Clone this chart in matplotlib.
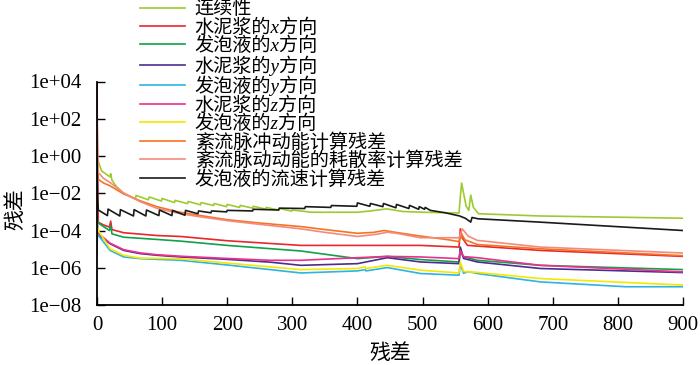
import numpy as np
import matplotlib
matplotlib.use("Agg")
import matplotlib.pyplot as plt

plt.rcParams['font.family'] = ['Liberation Serif', 'Noto Sans CJK SC', 'DejaVu Sans']
plt.rcParams['axes.unicode_minus'] = True

# ---------------- data (log10 of residual) ----------------
labels = ['连续性', '水泥浆的x方向', '发泡液的x方向', '水泥浆的y方向', '发泡液的y方向',
          '水泥浆的z方向', '发泡液的z方向', '紊流脉冲动能计算残差', '紊流脉动动能的耗散率计算残差',
          '发泡液的流速计算残差']

cont_it = [0, 1, 7, 15, 20, 21, 23, 30, 40, 50, 59, 60, 79, 80, 99, 100, 119, 120, 139, 140,
           159, 160, 179, 180, 199, 200, 219, 220, 239, 240, 259, 260, 279, 280, 299, 300,
           330, 360, 400, 420, 445, 470, 500, 556, 558, 560, 563, 567, 571, 574, 578, 586, 680, 900]
cont_log = [-0.3, -0.2, -0.8, -1.0, -1.12, -0.95, -1.3, -1.65, -1.97, -2.15, -2.3, -2.12, -2.35, -2.2,
            -2.42, -2.28, -2.5, -2.38, -2.56, -2.44, -2.62, -2.5, -2.66, -2.55, -2.72, -2.6, -2.76,
            -2.65, -2.8, -2.7, -2.85, -2.76, -2.9, -2.82, -2.96, -2.9, -3.02, -3.02, -3.02, -2.95,
            -2.84, -2.98, -3.02, -3.06, -2.2, -1.45, -2.0, -2.7, -2.92, -2.1, -2.75, -3.1, -3.22, -3.34]

red_it = [0, 1, 2, 10, 19, 21, 23, 41, 92, 128, 200, 313, 400, 497, 556, 558, 561, 569, 681, 900]
red_log = [3.9, -1.2, -3.56, -3.7, -3.82, -3.5, -3.95, -4.12, -4.27, -4.32, -4.55, -4.8, -4.8, -4.8,
           -4.89, -3.91, -4.4, -4.8, -5.07, -5.39]

dgreen_it = [0, 2, 19, 21, 23, 41, 92, 128, 200, 313, 400, 446, 497, 556, 558, 562, 584, 681, 900]
dgreen_log = [-3.29, -3.6, -4.0, -3.75, -4.18, -4.36, -4.48, -4.57, -4.8, -5.1, -5.51, -5.39, -5.56,
              -5.69, -4.98, -5.4, -5.6, -5.87, -6.1]

purple_it = [0, 2, 20, 41, 66, 92, 128, 200, 266, 313, 400, 446, 497, 556, 558, 563, 584, 681, 900]
purple_log = [-3.56, -4.2, -4.71, -5.07, -5.24, -5.33, -5.42, -5.55, -5.7, -5.87, -5.78, -5.46, -5.69,
              -5.78, -4.89, -5.5, -5.69, -6.04, -6.26]

cyan_it = [0, 1, 3, 20, 41, 66, 128, 200, 313, 400, 412, 413, 446, 497, 556, 558, 563, 570, 584,
           681, 812, 900]
cyan_log = [-5.23, -3.7, -4.3, -5.07, -5.42, -5.51, -5.6, -5.85, -6.28, -6.17, -6.1, -6.17, -5.99,
            -6.31, -6.4, -5.78, -6.3, -6.2, -6.31, -6.76, -7.02, -7.02]

magenta_it = [0, 2, 20, 41, 66, 92, 128, 200, 266, 313, 400, 446, 497, 556, 558, 563, 584, 681, 900]
magenta_log = [-3.5, -4.15, -4.68, -5.03, -5.2, -5.3, -5.38, -5.5, -5.6, -5.6, -5.46, -5.39, -5.42,
               -5.51, -5.07, -5.4, -5.46, -5.87, -6.22]

yellow_it = [0, 2, 20, 41, 66, 128, 200, 313, 400, 412, 413, 446, 497, 556, 558, 563, 584, 681, 900]
yellow_log = [-3.56, -4.0, -4.98, -5.33, -5.48, -5.52, -5.75, -6.1, -6.04, -5.95, -6.04, -5.87, -6.13,
              -6.28, -5.69, -6.2, -6.25, -6.58, -6.93]

orange_it = [0, 1, 2, 10, 20, 41, 66, 92, 123, 150, 200, 250, 313, 350, 400, 425, 441, 455, 497,
             540, 556, 560, 565, 584, 680, 900]
orange_log = [1.6, -0.5, -1.25, -1.45, -1.6, -2.04, -2.4, -2.72, -2.99, -3.15, -3.42, -3.6, -3.79,
              -3.95, -4.15, -4.1, -4.0, -4.08, -4.3, -4.5, -4.6, -4.2, -4.5, -4.75, -4.98, -5.35]

salmon_it = [0, 1, 2, 10, 20, 41, 66, 92, 123, 150, 200, 250, 313, 350, 400, 430, 446, 460, 497,
             556, 561, 570, 584, 681, 900]
salmon_log = [2.45, 0.0, -0.89, -1.2, -1.42, -1.99, -2.45, -2.81, -3.06, -3.22, -3.47, -3.67, -3.91,
              -4.1, -4.32, -4.2, -4.09, -4.15, -4.39, -4.39, -3.91, -4.3, -4.53, -4.89, -5.21]

black_it = [0, 1, 2, 16, 17, 35, 36, 56, 57, 75, 76, 95, 96, 115, 116, 135, 136, 155, 156, 175, 176,
            199, 200, 239, 240, 279, 280, 319, 320, 359, 360, 399, 400, 419, 420, 439, 440, 459, 460,
            479, 480, 494, 495, 503, 504, 512, 535, 557, 566, 574, 576, 585, 680, 900]
black_log = [-0.1, -2.4, -2.9, -3.2, -2.85, -3.22, -2.88, -3.22, -2.88, -3.22, -2.9, -3.2, -2.9,
             -3.2, -2.92, -3.18, -2.92, -3.1, -2.95, -3.05, -2.95, -3.0, -2.92, -2.95, -2.86, -2.9,
             -2.8, -2.82, -2.72, -2.76, -2.66, -2.7, -2.52, -2.7, -2.55, -2.72, -2.55, -2.78, -2.6,
             -2.82, -2.65, -2.86, -2.72, -2.86, -2.76, -2.92, -3.05, -3.22, -3.35, -3.55, -3.3,
             -3.37, -3.55, -4.0]

series = [
    (cont_it, cont_log, '#9dcb2f'),
    (red_it, red_log, '#e8282b'),
    (dgreen_it, dgreen_log, '#13a04a'),
    (purple_it, purple_log, '#4b2d8e'),
    (cyan_it, cyan_log, '#2db3e6'),
    (magenta_it, magenta_log, '#ec308c'),
    (yellow_it, yellow_log, '#f4e800'),
    (orange_it, orange_log, '#f47421'),
    (salmon_it, salmon_log, '#f38a7e'),
    (black_it, black_log, '#1a1a1a'),
]

yticks = [1e-8, 1e-6, 1e-4, 1e-2, 1e0, 1e2, 1e4]
yticklabels = ['1e\u221208', '1e\u221206', '1e\u221204', '1e\u221202', '1e+00', '1e+02', '1e+04']
xticks = [0, 100, 200, 300, 400, 500, 600, 700, 800, 900]

# ---------------- figure ----------------
fig = plt.figure(figsize=(7.0, 3.65), dpi=100)
ax = fig.add_axes([97 / 700, 1 - 305 / 365, 586 / 700, 223.5 / 365])

handles = []
for (it, lg, col), lab in zip(series, labels):
    h, = ax.plot(it, 10.0 ** np.array(lg), color=col, lw=1.2, label=lab)
    handles.append(h)

ax.set_yscale('log')
ax.set_xlim(0, 900)
ax.set_ylim(1e-8, 1e4)
ax.set_yticks(yticks)
ax.set_yticklabels(yticklabels)
ax.yaxis.set_minor_locator(matplotlib.ticker.NullLocator())
ax.set_xticks(xticks)

for s in ['top', 'right']:
    ax.spines[s].set_visible(False)
for s in ['left', 'bottom']:
    ax.spines[s].set_linewidth(1.3)
ax.tick_params(axis='both', direction='in', length=6, width=1.0, labelsize=15)
ax.tick_params(axis='y', pad=11)
ax.tick_params(axis='x', pad=8)

ax.set_xlabel('残差', fontsize=15)
ax.set_ylabel('残差', fontsize=15)
ax.xaxis.set_label_coords(0.5, -0.175)
ax.yaxis.set_label_coords(-0.12, 0.43)

leg = fig.legend(handles=handles, labels=labels, loc='upper left',
                 bbox_to_anchor=(140 / 700, 1.0), frameon=False, fontsize=13.8,
                 borderpad=0, borderaxespad=0, handlelength=2.35, handletextpad=0.5,
                 labelspacing=0.0)
# Latin axis letters in the labels are italic (CJK font has no italic, stays upright)
for t in leg.get_texts():
    if any(c in t.get_text() for c in 'xyz'):
        t.set_fontstyle('italic')

fig.savefig('out.png', dpi=100)
